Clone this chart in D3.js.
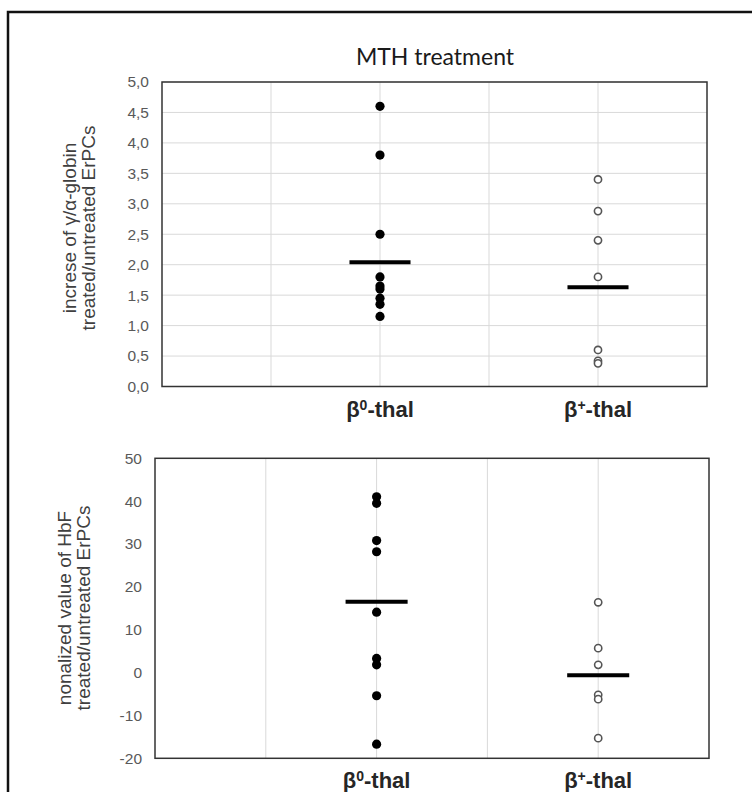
<!DOCTYPE html>
<html>
<head>
<meta charset="utf-8">
<script src="https://cdn.jsdelivr.net/npm/d3@7"></script>
<style>
    body { margin: 0; background: #fff; }
    svg { display: block; }
    .tick-label { font-family: "Liberation Sans", Arial, sans-serif; font-size: 15.5px; fill: #595959; }
    .axis-title { font-family: "Liberation Sans", Arial, sans-serif; font-size: 19px; fill: #404040; }
    .cat-label { font-family: "Liberation Sans", Arial, sans-serif; font-size: 22px; font-weight: bold; fill: #262626; }
</style>
</head>
<body>
<div id="chart"></div>
<script>
// categories on the x axis (base letter + superscript)
var catBase = ["β", "β"];
var catSup = ["0", "+"];
var catPos = [1, 2];

// upper panel: increase of gamma/alpha-globin
var globinB0 = [4.6, 3.8, 2.5, 1.8, 1.65, 1.6, 1.45, 1.35, 1.15];
var globinBplus = [3.4, 2.88, 2.4, 1.8, 0.6, 0.42, 0.38];
var globinMean = [2.04, 1.63];
var globinTicks = [0, 0.5, 1, 1.5, 2, 2.5, 3, 3.5, 4, 4.5, 5];

// lower panel: normalized HbF
var hbfB0 = [41.0, 39.5, 30.8, 28.2, 14.1, 3.3, 1.8, -5.4, -16.7];
var hbfBplus = [16.4, 5.7, 1.8, -5.2, -6.2, -15.3];
var hbfMean = [16.5, -0.6];
var hbfTicks = [-20, -10, 0, 10, 20, 30, 40, 50];

var width = 752, height = 792;

var svg = d3.select("#chart").append("svg")
    .attr("width", width)
    .attr("height", height);

// outer frame (figure is cropped on right and bottom)
svg.append("rect")
    .attr("x", 8).attr("y", 12)
    .attr("width", 800).attr("height", 850)
    .attr("fill", "none")
    .attr("stroke", "#111")
    .attr("stroke-width", 2.5);

svg.append("text")
    .attr("x", 435).attr("y", 65)
    .attr("text-anchor", "middle")
    .style("font-family", "Lato, 'Open Sans', sans-serif")
    .style("font-size", "23px")
    .style("fill", "#1a1a1a")
    .text("MTH treatment");

var commaFmt = d3.formatLocale({decimal: ",", thousands: ".", grouping: [3], currency: ["", ""]}).format(".1f");

function drawPanel(cfg) {
    var x = d3.scaleLinear().domain([0, 2.5]).range([cfg.left, cfg.right]);
    var y = d3.scaleLinear().domain(cfg.domain).range([cfg.bottom, cfg.top]);
    var g = svg.append("g");

    // horizontal grid
    if (cfg.hGrid) {
        g.selectAll(".hgrid")
            .data(cfg.ticks)
            .enter().append("line")
            .attr("x1", cfg.left).attr("x2", cfg.right)
            .attr("y1", function (d) { return y(d); })
            .attr("y2", function (d) { return y(d); })
            .attr("stroke", "#d9d9d9")
            .attr("stroke-width", 1);
    }

    // vertical grid
    g.selectAll(".vgrid")
        .data([0.5, 1, 1.5, 2])
        .enter().append("line")
        .attr("x1", function (d) { return x(d); })
        .attr("x2", function (d) { return x(d); })
        .attr("y1", cfg.top).attr("y2", cfg.bottom)
        .attr("stroke", "#d9d9d9")
        .attr("stroke-width", 1);

    // plot frame
    g.append("rect")
        .attr("x", cfg.left).attr("y", cfg.top)
        .attr("width", cfg.right - cfg.left)
        .attr("height", cfg.bottom - cfg.top)
        .attr("fill", "none")
        .attr("stroke", "#333")
        .attr("stroke-width", 1.5);

    // y tick labels
    g.selectAll(".tick-label")
        .data(cfg.ticks)
        .enter().append("text")
        .attr("class", "tick-label")
        .attr("x", cfg.left - 13)
        .attr("y", function (d) { return y(d); })
        .attr("dy", "0.35em")
        .attr("text-anchor", "end")
        .text(cfg.fmt);

    // y axis title (two lines)
    var t = g.append("text")
        .attr("class", "axis-title")
        .attr("transform", "translate(" + cfg.titleX + "," + cfg.titleY + ") rotate(-90)")
        .attr("text-anchor", "middle");
    cfg.title.forEach(function (line, i) {
        t.append("tspan")
            .attr("x", 0)
            .attr("dy", i === 0 ? 0 : 19)
            .text(line);
    });

    // category labels
    var cl = g.selectAll(".cat-label")
        .data(catPos)
        .enter().append("text")
        .attr("class", "cat-label")
        .attr("x", function (d) { return x(d); })
        .attr("y", cfg.bottom + 30)
        .attr("text-anchor", "middle");
    cl.append("tspan").text(function (d, i) { return catBase[i]; });
    cl.append("tspan")
        .attr("dy", -7)
        .style("font-size", "14px")
        .text(function (d, i) { return catSup[i]; });
    cl.append("tspan")
        .attr("dy", 7)
        .text("-thal");

    // mean lines
    g.selectAll(".mean")
        .data(cfg.means)
        .enter().append("line")
        .attr("x1", function (d, i) { return x(catPos[i] - 0.14); })
        .attr("x2", function (d, i) { return x(catPos[i] + 0.14); })
        .attr("y1", function (d) { return y(d); })
        .attr("y2", function (d) { return y(d); })
        .attr("stroke", "#000")
        .attr("stroke-width", 4);

    // beta0 points: filled
    g.selectAll(".p0")
        .data(cfg.b0)
        .enter().append("circle")
        .attr("cx", x(catPos[0]))
        .attr("cy", function (d) { return y(d); })
        .attr("r", 4.6)
        .attr("fill", "#000");

    // beta+ points: open
    g.selectAll(".pp")
        .data(cfg.bplus)
        .enter().append("circle")
        .attr("cx", x(catPos[1]))
        .attr("cy", function (d) { return y(d); })
        .attr("r", 3.6)
        .attr("fill", "#fff")
        .attr("stroke", "#555")
        .attr("stroke-width", 1.6);
}

drawPanel({
    left: 162, right: 707, top: 82, bottom: 386.5,
    domain: [0, 5], ticks: globinTicks, hGrid: true,
    fmt: commaFmt,
    title: ["increse of γ/α-globin", "treated/untreated ErPCs"],
    titleX: 76, titleY: 228,
    b0: globinB0, bplus: globinBplus, means: globinMean
});

drawPanel({
    left: 155, right: 709, top: 458.3, bottom: 758.3,
    domain: [-20, 50], ticks: hbfTicks, hGrid: false,
    fmt: function (d) { return d; },
    title: ["nonalized value of HbF", "treated/untreated ErPCs"],
    titleX: 71, titleY: 608,
    b0: hbfB0, bplus: hbfBplus, means: hbfMean
});
</script>
</body>
</html>
